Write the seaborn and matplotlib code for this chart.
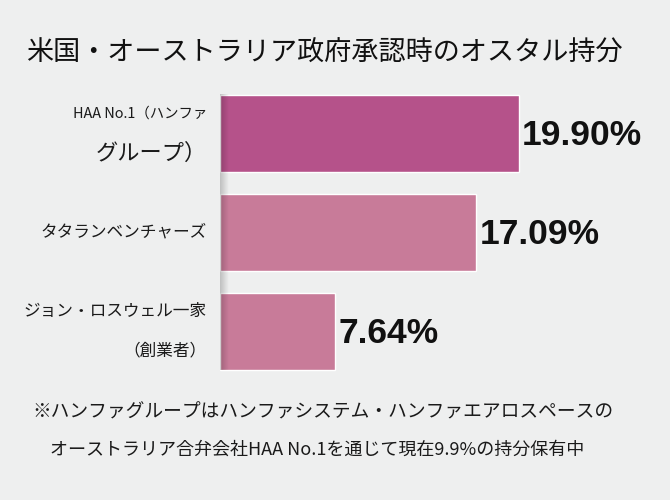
import numpy as np
import pandas as pd
import matplotlib
matplotlib.use("Agg")
import matplotlib.pyplot as plt
import seaborn as sns

# データ
categories = ["HAA No.1（ハンファグループ）", "タタランベンチャーズ", "ジョン・ロスウェル一家（創業者）"]
shares = [19.90, 17.09, 7.64]
value_labels = ["19.90%", "17.09%", "7.64%"]
label_lines = [["HAA No.1（ハンファ", "グループ）"], ["タタランベンチャーズ"], ["ジョン・ロスウェル一家", "（創業者）"]]
label_sizes = [[10.4, 16], [12], [12, 12]]
bar_colors = ["#b5528a", "#c87b99", "#c87b99"]

title = "米国・オーストラリア政府承認時のオスタル持分"
notes = ["※ハンファグループはハンファシステム・ハンファエアロスペースの",
         "オーストラリア合弁会社HAA No.1を通じて現在9.9%の持分保有中"]

bg = "#eeefef"
sns.set_theme(style="white")
plt.rcParams["font.family"] = ["Noto Sans CJK JP", "DejaVu Sans"]

df = pd.DataFrame({"name": categories, "share": shares})

fig = plt.figure(figsize=(6.7, 5), dpi=100, facecolor=bg)
ax = fig.add_axes([220 / 670, 1 - 381 / 500, 450 / 670, 297 / 500])
ax.set_facecolor(bg)

sns.barplot(data=df, x="share", y="name", hue="name", palette=bar_colors,
            orient="h", width=0.78, legend=False, ax=ax, saturation=1)

ax.set_xticks([])
ax.set_yticks([])
ax.set_xlabel("")
ax.set_ylabel("")
sns.despine(ax=ax, left=True, bottom=True)

# 左端の影
shade = np.zeros((1, 50, 4))
shade[..., 3] = np.linspace(0.2, 0, 50)
ax.imshow(shade, extent=[0, 0.55, 2.39, -0.39], aspect="auto", zorder=5)
ax.set_xlim(0, 30)
ax.set_ylim(2.5, -0.5)

# 数値ラベル
for i, (v, lab) in enumerate(zip(shares, value_labels)):
    ax.text(v + 0.25, i + 0.02, lab, ha="left", va="center",
            fontsize=25.5, fontweight="bold", color="#111111",
            family=["Liberation Sans", "DejaVu Sans"])

# カテゴリラベル
for i, (lines, sizes) in enumerate(zip(label_lines, label_sizes)):
    offs = [0.0] if len(lines) == 1 else [-0.2, 0.2]
    for line, fs, off in zip(lines, sizes, offs):
        ax.text(-0.87, i + off, line, ha="right", va="center",
                fontsize=fs, color="#1a1a1a", clip_on=False)

fig.text(324 / 670, 1 - 53 / 500, title, ha="center", va="center",
         fontsize=19.5, color="#111111")
fig.text(323 / 670, 1 - 412 / 500, notes[0], ha="center", va="center",
         fontsize=13.5, color="#1a1a1a")
fig.text(317 / 670, 1 - 450 / 500, notes[1], ha="center", va="center",
         fontsize=13, color="#1a1a1a")

fig.savefig("out.png", dpi=100, facecolor=bg)
